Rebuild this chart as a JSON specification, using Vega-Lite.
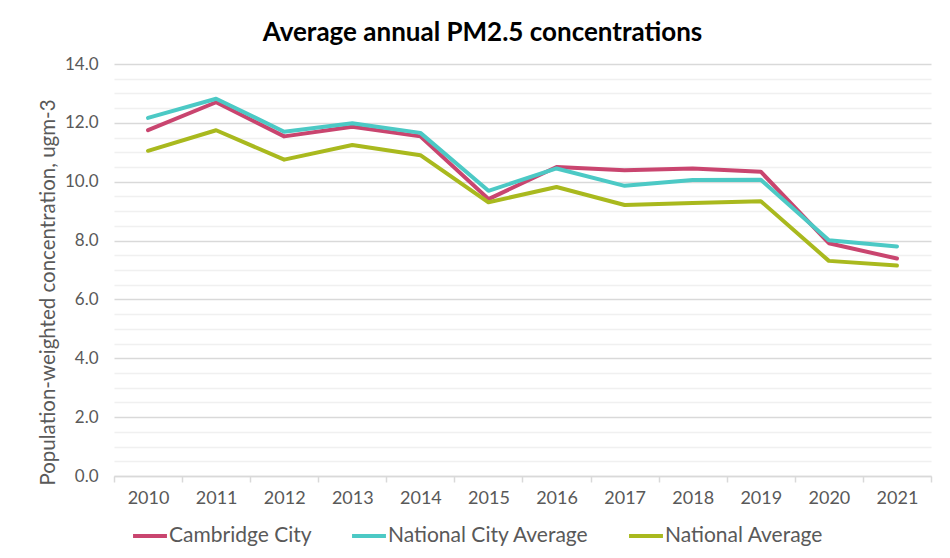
{
  "$schema": "https://vega.github.io/schema/vega-lite/v6.json",
  "width": 817,
  "height": 412,
  "autosize": {"type": "none"},
  "padding": {"left": 114, "top": 64, "right": 19, "bottom": 82},
  "background": "white",
  "title": {
    "text": "Average annual PM2.5 concentrations",
    "font": "Lato",
    "fontSize": 26,
    "fontWeight": "bold",
    "color": "#000000",
    "anchor": "middle",
    "dx": -40,
    "offset": 9
  },
  "config": {
    "view": {"stroke": null},
    "font": "Lato"
  },
  "data": {
    "values": [
      {"year": "2010", "series": "Cambridge City", "value": 11.75},
      {"year": "2011", "series": "Cambridge City", "value": 12.70},
      {"year": "2012", "series": "Cambridge City", "value": 11.54},
      {"year": "2013", "series": "Cambridge City", "value": 11.87},
      {"year": "2014", "series": "Cambridge City", "value": 11.54},
      {"year": "2015", "series": "Cambridge City", "value": 9.41},
      {"year": "2016", "series": "Cambridge City", "value": 10.50},
      {"year": "2017", "series": "Cambridge City", "value": 10.39},
      {"year": "2018", "series": "Cambridge City", "value": 10.45},
      {"year": "2019", "series": "Cambridge City", "value": 10.34},
      {"year": "2020", "series": "Cambridge City", "value": 7.91},
      {"year": "2021", "series": "Cambridge City", "value": 7.39},
      {"year": "2010", "series": "National City Average", "value": 12.17},
      {"year": "2011", "series": "National City Average", "value": 12.82},
      {"year": "2012", "series": "National City Average", "value": 11.70},
      {"year": "2013", "series": "National City Average", "value": 11.99},
      {"year": "2014", "series": "National City Average", "value": 11.66},
      {"year": "2015", "series": "National City Average", "value": 9.69},
      {"year": "2016", "series": "National City Average", "value": 10.45},
      {"year": "2017", "series": "National City Average", "value": 9.86},
      {"year": "2018", "series": "National City Average", "value": 10.06},
      {"year": "2019", "series": "National City Average", "value": 10.07},
      {"year": "2020", "series": "National City Average", "value": 8.01},
      {"year": "2021", "series": "National City Average", "value": 7.80},
      {"year": "2010", "series": "National Average", "value": 11.05},
      {"year": "2011", "series": "National Average", "value": 11.75},
      {"year": "2012", "series": "National Average", "value": 10.75},
      {"year": "2013", "series": "National Average", "value": 11.25},
      {"year": "2014", "series": "National Average", "value": 10.90},
      {"year": "2015", "series": "National Average", "value": 9.30},
      {"year": "2016", "series": "National Average", "value": 9.82},
      {"year": "2017", "series": "National Average", "value": 9.21},
      {"year": "2018", "series": "National Average", "value": 9.28},
      {"year": "2019", "series": "National Average", "value": 9.34},
      {"year": "2020", "series": "National Average", "value": 7.31},
      {"year": "2021", "series": "National Average", "value": 7.15}
    ]
  },
  "mark": {"type": "line", "strokeWidth": 4, "strokeCap": "round", "strokeJoin": "round"},
  "encoding": {
    "x": {
      "field": "year",
      "type": "ordinal",
      "scale": {"paddingInner": 0, "paddingOuter": 0},
      "axis": {
        "title": null,
        "labelAngle": 0,
        "labelFont": "Lato",
        "labelFontSize": 18,
        "labelColor": "#595959",
        "labelPadding": 7,
        "domainColor": "#d9d9d9",
        "domainWidth": 1.5,
        "tickColor": "#d9d9d9",
        "tickWidth": 1.5,
        "tickSize": 6,
        "tickBand": "extent",
        "grid": false
      }
    },
    "y": {
      "field": "value",
      "type": "quantitative",
      "scale": {"domain": [0, 14], "nice": false},
      "axis": {
        "title": "Population-weighted concentration, ugm-3",
        "titleFont": "Lato",
        "titleFontSize": 20.5,
        "titleFontWeight": "normal",
        "titleColor": "#595959",
        "titlePadding": 6,
        "titleY": 228,
        "values": [0, 0.5, 1, 1.5, 2, 2.5, 3, 3.5, 4, 4.5, 5, 5.5, 6, 6.5, 7, 7.5, 8, 8.5, 9, 9.5, 10, 10.5, 11, 11.5, 12, 12.5, 13, 13.5, 14],
        "labelExpr": "datum.value % 2 === 0 ? format(datum.value, '.1f') : ''",
        "labelFont": "Lato",
        "labelFontSize": 17,
        "labelColor": "#595959",
        "labelPadding": 16,
        "ticks": false,
        "domain": false,
        "grid": true,
        "gridColor": {"condition": {"test": "datum.value % 2 === 0", "value": "#d9d9d9"}, "value": "#f0f0f0"},
        "gridWidth": 1.5
      }
    },
    "color": {
      "field": "series",
      "type": "nominal",
      "scale": {
        "domain": ["Cambridge City", "National City Average", "National Average"],
        "range": ["#c9456f", "#4cc9c5", "#a9b91e"]
      },
      "legend": {
        "title": null,
        "orient": "none",
        "direction": "horizontal",
        "legendX": 17,
        "legendY": 453,
        "symbolType": "stroke",
        "symbolSize": 1150,
        "symbolStrokeWidth": 4,
        "labelFont": "Lato",
        "labelFontSize": 21,
        "labelLimit": 400,
        "labelColor": "#595959",
        "labelOffset": 0,
        "columnPadding": 32
      }
    }
  }
}
